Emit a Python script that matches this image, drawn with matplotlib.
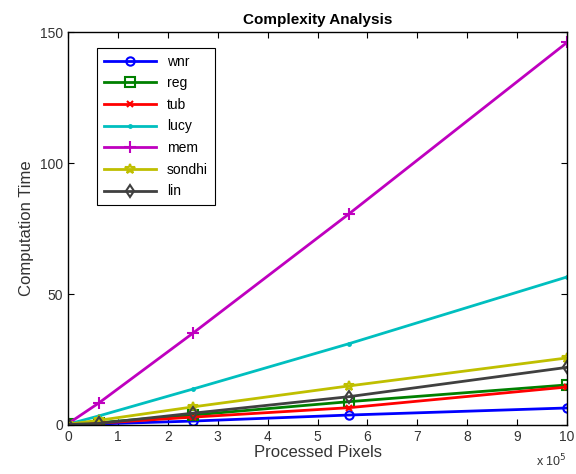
import numpy as np
import matplotlib
matplotlib.use('Agg')
import matplotlib.pyplot as plt

plt.rcParams['font.family'] = ['Liberation Sans', 'DejaVu Sans']

pixels = [0, 62500, 250000, 562500, 1000000]
wnr = [0.2, 0.4, 1.5, 3.8, 6.5]
reg = [0.3, 0.9, 3.8, 8.9, 15.3]
tub = [0.2, 0.7, 3.0, 6.6, 14.5]
lucy = [0.3, 3.5, 13.7, 31.0, 56.5]
mem = [0.5, 8.5, 35.0, 80.5, 146.0]
sondhi = [0.3, 1.8, 6.9, 14.9, 25.6]
lin = [0.2, 0.6, 4.5, 10.8, 22.0]

series = [
    ('wnr', wnr, '#0000ff', 'o', 6),
    ('reg', reg, '#008000', 's', 7),
    ('tub', tub, '#ff0000', 'x', 5),
    ('lucy', lucy, '#00bfbf', '.', 4),
    ('mem', mem, '#bf00bf', '+', 9),
    ('sondhi', sondhi, '#bfbf00', '*', 7),
    ('lin', lin, '#404040', 'd', 6),
]

fig = plt.figure(figsize=(5.76, 4.74), dpi=100)
ax = fig.add_axes([68/576, 1-425/474, (567-68)/576, (425-32)/474])

x = np.array(pixels) / 1e5
for name, vals, col, mk, ms in series:
    ax.plot(x, vals, color=col, marker=mk, markersize=ms, linewidth=2,
            markerfacecolor='none', markeredgecolor=col, markeredgewidth=1.5,
            label=name)

txt = '#333333'
ax.set_xlim(0, 10)
ax.set_ylim(0, 150)
ax.set_xticks(range(0, 11))
ax.set_yticks([0, 50, 100, 150])
ax.tick_params(direction='in', length=4, labelsize=10, top=True, right=True,
               labeltop=False, labelright=False, labelcolor=txt)
for s in ax.spines.values():
    s.set_linewidth(1)
ax.set_title('Complexity Analysis', fontsize=11, fontweight='bold')
ax.set_xlabel('Processed Pixels', fontsize=12, labelpad=1, color=txt)
ax.set_ylabel('Computation Time', fontsize=12, color=txt)
ax.text(1.0, -0.07, r'x 10$^5$', transform=ax.transAxes, ha='right', va='top',
        fontsize=9, color=txt)

leg = ax.legend(loc='upper left', bbox_to_anchor=(0.045, 0.978), fontsize=10,
                fancybox=False, edgecolor='black', framealpha=1,
                handlelength=3.7, labelspacing=0.55, borderpad=0.5)
leg.get_frame().set_linewidth(0.8)

fig.savefig('out.png', dpi=100)
